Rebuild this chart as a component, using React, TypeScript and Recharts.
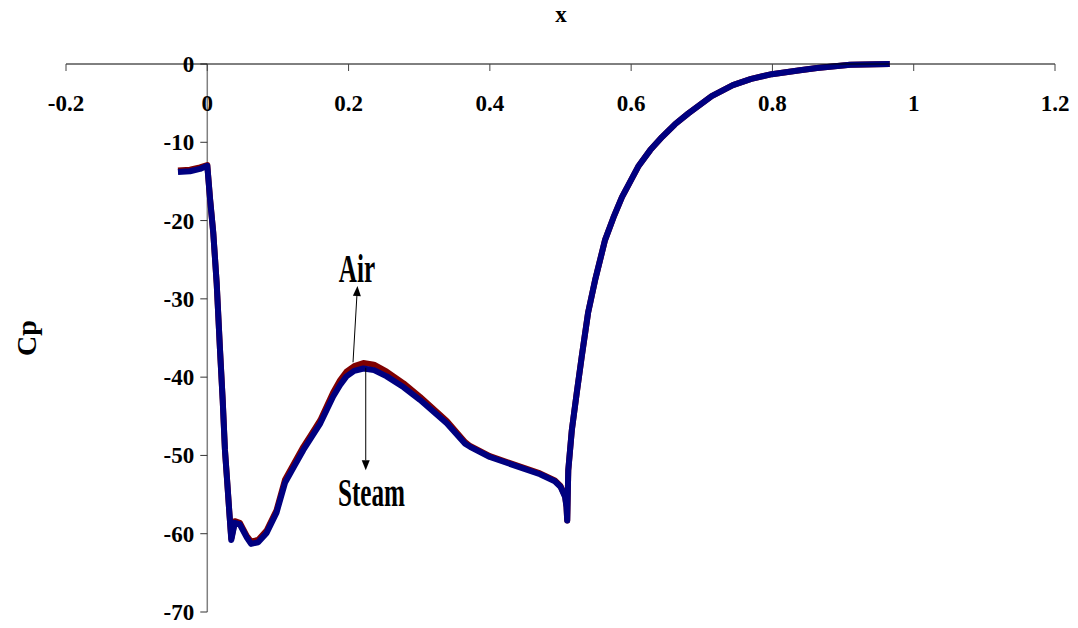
import React from 'react'
import { LineChart, Line, XAxis, YAxis, ReferenceLine, ReferenceDot } from 'recharts'

const xValues = [
  -0.0415, -0.0245, -0.0103, 0.0, 0.004, 0.0085, 0.0133, 0.018, 0.0218, 0.025,
  0.0283, 0.031, 0.034, 0.039, 0.046, 0.056, 0.062, 0.072, 0.084, 0.098,
  0.11, 0.123, 0.136, 0.148, 0.16, 0.178, 0.188, 0.197, 0.208, 0.221,
  0.236, 0.254, 0.278, 0.301, 0.339, 0.365, 0.372, 0.4, 0.471, 0.492,
  0.5, 0.5065, 0.5085, 0.5095, 0.511, 0.516, 0.523, 0.53, 0.539, 0.549,
  0.563, 0.575, 0.587, 0.61, 0.627, 0.644, 0.662, 0.681, 0.714, 0.744,
  0.77, 0.799, 0.839, 0.863, 0.91, 0.966,
]

const steamCp = [
  -13.8, -13.7, -13.4, -13.0, -17.3, -21.6, -28.0, -36.5, -42.9, -49.3,
  -53.5, -57.0, -60.8, -58.6, -58.8, -60.5, -61.3, -61.1, -59.9, -57.3,
  -53.5, -51.4, -49.3, -47.6, -45.9, -42.5, -41.0, -39.9, -39.2, -38.9,
  -39.1, -39.9, -41.3, -42.9, -45.9, -48.5, -48.9, -50.2, -52.4, -53.3,
  -54.0, -55.3, -56.6, -58.3, -51.9, -46.8, -42.0, -37.4, -31.8, -27.6,
  -22.5, -19.6, -17.0, -13.1, -11.0, -9.3, -7.7, -6.3, -4.1, -2.7,
  -1.9, -1.3, -0.8, -0.5, -0.1, 0.0,
]

const airCp = [
  -13.6, -13.5, -13.2, -12.9, -17.3, -21.6, -28.0, -36.5, -42.9, -49.3,
  -53.5, -57.0, -60.6, -58.4, -58.6, -60.3, -61.0, -60.8, -59.6, -57.0,
  -53.1, -51.0, -48.9, -47.2, -45.5, -42.0, -40.4, -39.3, -38.6, -38.2,
  -38.4, -39.3, -40.8, -42.5, -45.6, -48.3, -48.8, -50.1, -52.3, -53.2,
  -53.9, -55.2, -56.5, -58.3, -51.9, -46.8, -42.0, -37.4, -31.8, -27.6,
  -22.5, -19.6, -17.0, -13.1, -11.0, -9.3, -7.7, -6.3, -4.1, -2.7,
  -1.9, -1.3, -0.8, -0.5, -0.1, 0.0,
]

const xTicks = [-0.2, 0, 0.2, 0.4, 0.6, 0.8, 1, 1.2]
const yTicks = [0, -10, -20, -30, -40, -50, -60, -70]

const notes = [
  { text: 'Air', x: 0.212, y: -27.8 },
  { text: 'Steam', x: 0.2325, y: -56.5 },
]

const arrows = [
  { x1: 0.2063, y1: -38.1, x2: 0.2126, y2: -28.35 },
  { x1: 0.2243, y1: -38.8, x2: 0.2243, y2: -51.9 },
]

const serif = "'Liberation Serif', 'Times New Roman', serif"

const data = xValues.map((x, i) => ({ x, air: airCp[i], steam: steamCp[i] }))

// tick mark + label on the y axis, which sits at x = 0
const YTick = (props: any) => {
  const { x1, y1, value } = props
  return (
    <g>
      <line x1={x1 - 7} y1={y1} x2={x1} y2={y1} stroke="#333" strokeWidth={1} />
      <text
        x={x1 - 13}
        y={y1}
        dy="0.35em"
        textAnchor="end"
        fontFamily={serif}
        fontSize={23}
        fontWeight="bold"
        fill="#000"
      >
        {value}
      </text>
    </g>
  )
}

const Arrow = (props: any) => {
  const { x1, y1, x2, y2 } = props
  const ang = Math.atan2(y2 - y1, x2 - x1)
  const len = 10
  const half = 4
  const bx = x2 - len * Math.cos(ang)
  const by = y2 - len * Math.sin(ang)
  const px = -Math.sin(ang) * half
  const py = Math.cos(ang) * half
  return (
    <g>
      <line x1={x1} y1={y1} x2={bx} y2={by} stroke="#000" strokeWidth={1} />
      <polygon points={`${x2},${y2} ${bx + px},${by + py} ${bx - px},${by - py}`} fill="#000" />
    </g>
  )
}

const Note = (props: any) => {
  const { cx, cy, text } = props
  return (
    <text
      transform={`translate(${cx},${cy}) scale(0.63,1)`}
      textAnchor="middle"
      fontFamily={serif}
      fontSize={40}
      fontWeight="bold"
      fill="#000"
    >
      {text}
    </text>
  )
}

export default function App() {
  return (
    <div style={{ position: 'absolute', left: 0, top: 0, width: 1078, height: 628, background: '#fff' }}>
      <LineChart width={1078} height={628} data={data} margin={{ top: 64, right: 23, bottom: 16, left: 66 }}>
        <XAxis
          dataKey="x"
          type="number"
          orientation="top"
          mirror
          domain={[-0.2, 1.2]}
          ticks={xTicks}
          interval={0}
          tickSize={7}
          tickMargin={24}
          axisLine={{ stroke: '#000' }}
          tickLine={{ stroke: '#444' }}
          tick={{ fill: '#000', fontSize: 23, fontWeight: 'bold', fontFamily: serif }}
        />
        <YAxis type="number" domain={[-70, 0]} ticks={yTicks} hide />
        <ReferenceLine x={0} stroke="#808080" strokeWidth={1.5} />
        {yTicks.map(t => (
          <ReferenceLine
            key={t}
            segment={[{ x: 0, y: t }, { x: 0, y: t }]}
            shape={(p: any) => <YTick {...p} value={t} />}
          />
        ))}
        <Line
          dataKey="air"
          name="Air"
          type="linear"
          stroke="#800000"
          strokeWidth={6}
          strokeLinejoin="round"
          dot={false}
          isAnimationActive={false}
        />
        <Line
          dataKey="steam"
          name="Steam"
          type="linear"
          stroke="#000080"
          strokeWidth={6}
          strokeLinejoin="round"
          dot={false}
          isAnimationActive={false}
        />
        {arrows.map((a, i) => (
          <ReferenceLine
            key={'a' + i}
            segment={[{ x: a.x1, y: a.y1 }, { x: a.x2, y: a.y2 }]}
            shape={(p: any) => <Arrow {...p} />}
          />
        ))}
        {notes.map(n => (
          <ReferenceDot
            key={n.text}
            x={n.x}
            y={n.y}
            r={0}
            shape={(p: any) => <Note {...p} text={n.text} />}
          />
        ))}
      </LineChart>
      <div
        style={{
          position: 'absolute',
          left: 561,
          top: 15,
          transform: 'translate(-50%, -50%)',
          fontFamily: serif,
          fontWeight: 'bold',
          fontSize: 23,
        }}
      >
        x
      </div>
      <div
        style={{
          position: 'absolute',
          left: 27,
          top: 338,
          transform: 'translate(-50%, -50%) rotate(-90deg)',
          fontFamily: serif,
          fontWeight: 'bold',
          fontSize: 28,
          whiteSpace: 'nowrap',
        }}
      >
        Cp
      </div>
    </div>
  )
}
